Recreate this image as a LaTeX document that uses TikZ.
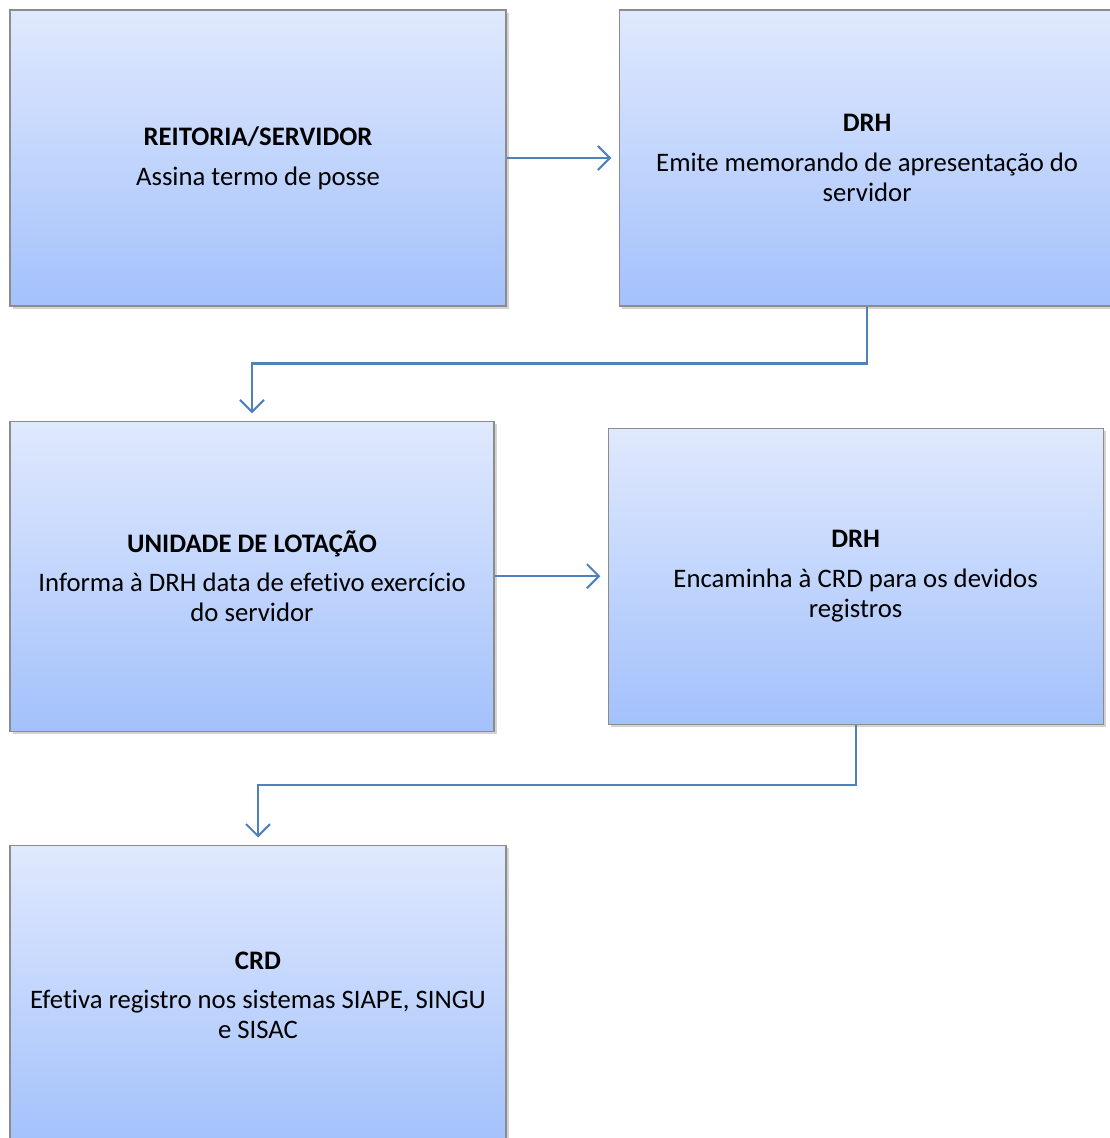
\documentclass[tikz,border=0pt]{standalone}
\usepackage{fontspec}
\setmainfont{Carlito}[Ligatures=CommonOff]
\usetikzlibrary{arrows.meta, positioning, shadows}
\definecolor{boxtop}{RGB}{224,233,253}
\definecolor{boxbot}{RGB}{163,193,252}
\definecolor{boxline}{RGB}{140,140,140}
\definecolor{flowblue}{RGB}{79,129,189}

\begin{document}
\begin{tikzpicture}[
  stepbox/.style={
    rectangle, draw=boxline, line width=0.8pt,
    top color=boxtop, bottom color=boxbot,
    drop shadow={shadow xshift=0.07cm, shadow yshift=-0.08cm, opacity=0.35},
    minimum width=12.4cm, minimum height=7.4cm,
    font=\fontsize{19}{21.3}\selectfont, align=center, inner sep=2pt},
  arr/.style={-{Straight Barb[length=0.3cm, width=0.6cm, line width=1.5pt]},
    line width=1.6pt, flowblue, shorten >=0.18cm}
]
  \useasboundingbox (0,0) rectangle (27.75,-28.45);
  \node[stepbox] (B1) at (6.45,-3.95)
    {\textbf{REITORIA/SERVIDOR}\\[7pt]Assina termo de posse};
  \node[stepbox, right=2.8cm of B1] (B2)
    {\textbf{DRH}\\[7pt]Emite memorando de apresentação do\\servidor};
  \node[stepbox, minimum width=12.1cm, minimum height=7.75cm,
    below=2.85cm of B1.south west, anchor=north west] (B3)
    {\textbf{UNIDADE DE LOTAÇÃO}\\[7pt]Informa à DRH data de efetivo exercício\\do servidor};
  \node[stepbox, minimum width=12.375cm, right=2.825cm of B3] (B4)
    {\textbf{DRH}\\[7pt]Encaminha à CRD para os devidos\\registros};
  \node[stepbox, minimum height=7.5cm,
    below=2.825cm of B3.south west, anchor=north west] (B5)
    {\textbf{CRD}\\[7pt]Efetiva registro nos sistemas SIAPE, SINGU\\e SISAC};
  % Arrows
  \draw[arr] (B1) -- (B2);
  \draw[arr] (B2.south) -- ++(0,-1.425) -| (B3.north);
  \draw[arr] (B3) -- (B4);
  \draw[arr] (B4.south) -- ++(0,-1.5) -| (B5.north);
\end{tikzpicture}
\end{document}
